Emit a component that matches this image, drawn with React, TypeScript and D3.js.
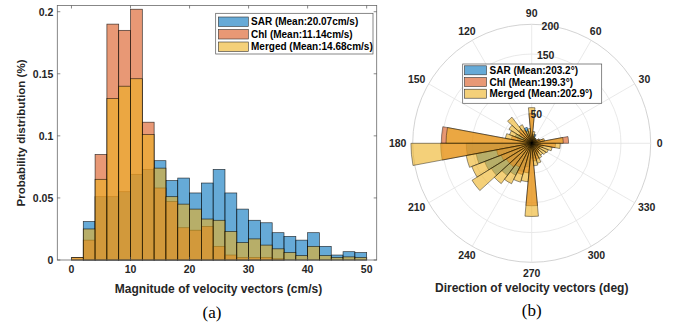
import * as d3 from 'd3';

// ---- histogram data (probability per 2 cm/s bin) ----
const binStarts = [0, 2, 4, 6, 8, 10, 12, 14, 16, 18, 20, 22, 24, 26, 28, 30, 32, 34, 36, 38, 40, 42, 44, 46, 48]
const binWidth = 2
const sarHist = [0, 0.031, 0.051, 0.051, 0.055, 0.069, 0.073, 0.080, 0.064, 0.066, 0.054, 0.062, 0.073, 0.054, 0.041, 0.032, 0.030, 0.022, 0.019, 0.016, 0.022, 0.011, 0.004, 0.0067, 0.006]
const chlHist = [0.002, 0.016, 0.085, 0.190, 0.185, 0.202, 0.111, 0.058, 0.047, 0.026, 0.024, 0.027, 0.011, 0.004, 0.002, 0.002, 0.002, 0.001, 0, 0, 0, 0, 0, 0, 0]
const mergedHist = [0.002, 0.025, 0.065, 0.130, 0.140, 0.146, 0.101, 0.074, 0.051, 0.045, 0.041, 0.033, 0.032, 0.023, 0.014, 0.017, 0.012, 0.009, 0.006, 0.0035, 0.011, 0.0035, 0.002, 0.0025, 0.002]
const xTicks = [0, 10, 20, 30, 40, 50]
const yTicks = [0, 0.05, 0.1, 0.15, 0.2]
const histLegend = ['SAR (Mean:20.07cm/s)', 'Chl (Mean:11.14cm/s)', 'Merged (Mean:14.68cm/s)']

// ---- polar histogram data (34 bins of 360/34 deg, counts) ----
const polarBins = 34
const sarRose = [15, 10, 8, 8, 10, 10, 16, 10, 12, 14, 28, 15, 12, 15, 30, 25, 20, 110, 95, 85, 80, 68, 60, 50, 40, 25, 25, 22, 18, 15, 15, 15, 15, 15]
const chlRose = [62, 20, 14, 10, 8, 8, 8, 15, 50, 20, 15, 25, 30, 25, 15, 35, 152, 153, 60, 55, 50, 50, 45, 55, 50, 105, 30, 28, 20, 18, 15, 15, 20, 40]
const mergedRose = [53, 22, 14, 8, 10, 10, 12, 20, 60, 25, 22, 35, 55, 45, 40, 45, 144, 203, 112, 108, 118, 85, 76, 68, 65, 123, 38, 35, 28, 25, 28, 30, 35, 48]
const rGrid = [50, 100, 150, 200]
// the 100 label sits under the legend in the reference, so it is not shown
const rLabels = [50, 150, 200]
const thetaTicks = [0, 30, 60, 90, 120, 150, 180, 210, 240, 270, 300, 330]
const roseLegend = ['SAR (Mean:203.2°)', 'Chl (Mean:199.3°)', 'Merged (Mean:202.9°)']

const colors = ['#0072BD', '#D95319', '#EDB120']
const font = '"Liberation Sans", Arial, sans-serif'

// histogram geometry
const x = d3.scaleLinear().domain([-2.4, 51.7]).range([57.3, 376.7])
const y = d3.scaleLinear().domain([0, 0.205]).range([260, 5.5])

// polar geometry
const cx = 531.7
const cy = 143.3
const r = d3.scaleLinear().domain([0, 200]).range([0, 119])
const arc = d3.arc<{ a0: number, a1: number, rr: number }>()
  .innerRadius(0)
  .outerRadius(d => r(d.rr))
  .startAngle(d => Math.PI / 2 - d.a1)
  .endAngle(d => Math.PI / 2 - d.a0)

const Histogram = () => {
  const series = [sarHist, chlHist, mergedHist]
  const [x0, x1] = x.range()
  const [y0, y1] = y.range()
  return (
    <g>
      {series.map((vals, si) => (
        <g key={si}>
          {vals.map((v, i) => v > 0 && (
            <rect key={i}
              x={x(binStarts[i])} y={y(v)}
              width={x(binStarts[i] + binWidth) - x(binStarts[i])}
              height={y(0) - y(v)}
              fill={colors[si]} fillOpacity={0.6}
              stroke="#000" strokeOpacity={0.75} strokeWidth={0.7} />
          ))}
        </g>
      ))}
      {/* axes box */}
      <rect x={x0} y={y1} width={x1 - x0} height={y0 - y1} fill="none" stroke="#6a6a6a" strokeWidth={0.8} />
      {xTicks.map(t => (
        <g key={t}>
          <line x1={x(t)} x2={x(t)} y1={y0} y2={y0 - 3} stroke="#555" strokeWidth={0.7} />
          <line x1={x(t)} x2={x(t)} y1={y1} y2={y1 + 3} stroke="#555" strokeWidth={0.7} />
          <text x={x(t)} y={y0 + 13} textAnchor="middle" fontSize={10.5} fontWeight="bold" fill="#262626">{t}</text>
        </g>
      ))}
      {yTicks.map(t => (
        <g key={t}>
          <line x1={x0} x2={x0 + 3} y1={y(t)} y2={y(t)} stroke="#555" strokeWidth={0.7} />
          <line x1={x1} x2={x1 - 3} y1={y(t)} y2={y(t)} stroke="#555" strokeWidth={0.7} />
          <text x={x0 - 4} y={y(t) + 3.8} textAnchor="end" fontSize={10.5} fontWeight="bold" fill="#262626">{t}</text>
        </g>
      ))}
      <text x={218.5} y={293} textAnchor="middle" fontSize={12} fontWeight="bold" fill="#262626">Magnitude of velocity vectors (cm/s)</text>
      <text transform="translate(25,133) rotate(-90)" textAnchor="middle" fontSize={11.5} fontWeight="bold" fill="#262626">Probability distribution (%)</text>
      {/* legend */}
      <rect x={215.7} y={13.3} width={157.3} height={40.7} fill="#fff" stroke="#555" strokeWidth={0.7} />
      {histLegend.map((s, i) => (
        <g key={s}>
          <rect x={218.3} y={17 + i * 12.5} width={30} height={9.5} fill={colors[i]} fillOpacity={0.6} stroke="#333" strokeWidth={0.6} />
          <text x={251} y={25.3 + i * 12.5} fontSize={10} fontWeight="bold" fill="#000">{s}</text>
        </g>
      ))}
      <text x={212} y={318} textAnchor="middle" fontSize={17} fontFamily='"Liberation Serif", "Times New Roman", serif'>(a)</text>
    </g>
  )
}

const Rose = () => {
  const series = [sarRose, chlRose, mergedRose]
  const step = 2 * Math.PI / polarBins
  const R = r(200)
  return (
    <g>
      {rGrid.map(t => (
        <circle key={t} cx={cx} cy={cy} r={r(t)} fill="none" stroke={t === 200 ? '#c8c8c8' : '#e3e3e3'} strokeWidth={0.8} />
      ))}
      {thetaTicks.map(t => (
        <line key={t} x1={cx} y1={cy} x2={cx + R * Math.cos(t * Math.PI / 180)} y2={cy - R * Math.sin(t * Math.PI / 180)} stroke="#e3e3e3" strokeWidth={0.8} />
      ))}
      <g transform={`translate(${cx},${cy})`}>
        {series.map((vals, si) => (
          <g key={si}>
            {vals.map((v, i) => (
              <path key={i}
                d={arc({ a0: i * step, a1: (i + 1) * step, rr: v }) || ''}
                fill={colors[si]} fillOpacity={0.6}
                stroke="#000" strokeOpacity={0.7} strokeWidth={0.6} />
            ))}
          </g>
        ))}
      </g>
      {thetaTicks.map(t => {
        const a = t * Math.PI / 180
        const w = String(t).length * 6
        const c = Math.cos(a), s = Math.sin(a)
        const rx = R + 6 + (w / 2) * Math.abs(c)
        const ry = R + 6 + 5 * Math.abs(s)
        return (
          <text key={t} x={cx + rx * c} y={cy - ry * s + 3.8} textAnchor="middle" fontSize={10.5} fontWeight="bold" fill="#262626">{t}</text>
        )
      })}
      {rLabels.map(t => {
        const a = 81 * Math.PI / 180
        return (
          <text key={t} x={cx + r(t) * Math.cos(a)} y={cy - r(t) * Math.sin(a) + 3.8} textAnchor="middle" fontSize={10.5} fontWeight="bold" fill="#262626">{t}</text>
        )
      })}
      {/* legend */}
      <rect x={462.7} y={64} width={139} height={39.3} fill="#fff" stroke="#555" strokeWidth={0.7} />
      {roseLegend.map((s, i) => (
        <g key={s}>
          <rect x={464.5} y={65.8 + i * 11.7} width={22} height={9} fill={colors[i]} fillOpacity={0.6} stroke="#333" strokeWidth={0.6} />
          <text x={489.5} y={73.8 + i * 11.7} fontSize={10} fontWeight="bold" fill="#000">{s}</text>
        </g>
      ))}
      <text x={cx} y={292} textAnchor="middle" fontSize={12} fontWeight="bold" fill="#262626">Direction of velocity vectors (deg)</text>
      <text x={cx} y={316} textAnchor="middle" fontSize={17} fontFamily='"Liberation Serif", "Times New Roman", serif'>(b)</text>
    </g>
  )
}

export default function App() {
  return (
    <svg width={674} height={326} style={{ position: 'absolute', left: 0, top: 0, background: '#fff' }} fontFamily={font}>
      <Histogram />
      <Rose />
    </svg>
  )
}
